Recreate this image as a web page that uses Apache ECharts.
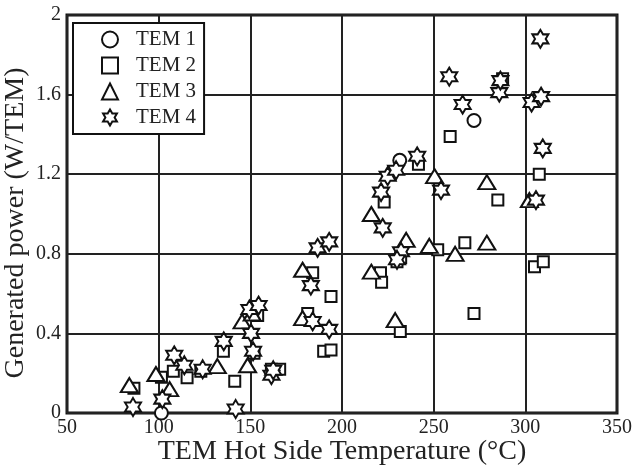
<!DOCTYPE html>
<html>
<head>
<meta charset="utf-8">
<script src="https://cdn.jsdelivr.net/npm/echarts@6/dist/echarts.min.js"></script>
<style>html,body{margin:0;padding:0;background:#fff}#c{width:632px;height:470px}</style>
</head>
<body>
<div id="c"></div>
<script>
const seriesNames = ['TEM 1', 'TEM 2', 'TEM 3', 'TEM 4'];
const xTicks = [50, 100, 150, 200, 250, 300, 350];
const yTicks = [0, 0.4, 0.8, 1.2, 1.6, 2];

const tem1X = [101.5, 231.5, 272];
const tem1Y = [0, 1.27, 1.47];

const tem2X = [86.5, 101.5, 108, 115.5, 123, 135.3, 141.5, 152, 154, 161.5, 166, 181.3, 184, 194, 190, 194, 221, 221.6, 223, 231.8, 230, 232, 241.7, 252.2, 259, 267, 272, 285, 287.6, 305, 309.8, 307.6];
const tem2Y = [0.125, 0.18, 0.21, 0.177, 0.21, 0.31, 0.16, 0.30, 0.49, 0.22, 0.22, 0.50, 0.705, 0.585, 0.31, 0.317, 0.705, 0.657, 1.06, 0.41, 0.76, 0.78, 1.25, 0.82, 1.39, 0.856, 0.50, 1.07, 1.68, 0.735, 0.76, 1.20];

const tem3X = [84, 98.5, 106, 132, 145.5, 148.5, 151, 178.5, 178.5, 216, 216, 229, 235, 247.6, 250.5, 261.7, 279, 279, 302.2];
const tem3Y = [0.14, 0.196, 0.12, 0.236, 0.46, 0.24, 0.50, 0.72, 0.477, 1.0, 0.71, 0.467, 0.87, 0.84, 1.19, 0.80, 1.16, 0.856, 1.07];

const tem4X = [86, 102, 108.5, 114, 124, 135.5, 142, 149.5, 154.5, 150.4, 151.5, 161.5, 162.5, 183, 184, 186.7, 193, 193, 222.2, 221.3, 224.9, 229.5, 232.2, 230, 241, 254, 258.5, 265.8, 285.8, 286.4, 303.4, 308.6, 308.2, 309.5, 305.8];
const tem4Y = [0.03, 0.07, 0.29, 0.24, 0.22, 0.36, 0.02, 0.52, 0.54, 0.40, 0.31, 0.19, 0.215, 0.64, 0.46, 0.83, 0.86, 0.42, 0.93, 1.11, 1.19, 1.22, 0.81, 0.77, 1.29, 1.12, 1.69, 1.55, 1.61, 1.67, 1.56, 1.59, 1.88, 1.33, 1.07];

const starPath = 'path://M0,-1L0.289,-0.5L0.866,-0.5L0.577,0L0.866,0.5L0.289,0.5L0,1L-0.289,0.5L-0.866,0.5L-0.577,0L-0.866,-0.5L-0.289,-0.5Z';

function pairs(xs, ys) { return xs.map((x, i) => [x, ys[i]]); }

const FONT = 'Liberation Serif';
const markStyle = { color: '#fff', borderColor: '#111', borderWidth: 2, opacity: 1 };

const symbols = ['circle', 'rect', 'triangle', starPath];
const sizes = [13, 11, [17, 14], [16, 18]];
const datasets = [pairs(tem1X, tem1Y), pairs(tem2X, tem2Y), pairs(tem3X, tem3Y), pairs(tem4X, tem4Y)];

const chart = echarts.init(document.getElementById('c'), null, { renderer: 'canvas' });
chart.setOption({
  animation: false,
  backgroundColor: '#fff',
  grid: { left: 67, right: 15, top: 15, bottom: 57, containLabel: false, outerBoundsMode: 'none',
    show: true, borderColor: '#111', borderWidth: 3, backgroundColor: 'transparent' },
  legend: {
    left: 73, top: 23, orient: 'vertical',
    backgroundColor: '#fff', borderColor: '#111', borderWidth: 2, borderRadius: 0,
    padding: [6, 8, 6, 28],
    itemWidth: 16, itemHeight: 16, itemGap: 5,
    textStyle: { fontFamily: FONT, fontSize: 21, color: '#222', lineHeight: 20, padding: [0, 0, 0, 13] },
    data: seriesNames.map((n, i) => ({ name: n, icon: symbols[i] })),
    itemStyle: { color: '#fff', borderColor: '#111', borderWidth: 2 }
  },
  xAxis: {
    type: 'value', min: 50, max: 350, interval: 50,
    name: 'TEM Hot Side Temperature (°C)', nameLocation: 'middle', nameGap: 25, nameMoveOverlap: false,
    nameTextStyle: { fontFamily: FONT, fontSize: 28, color: '#222' },
    axisLine: { show: false }, axisTick: { show: false },
    axisLabel: { fontFamily: FONT, fontSize: 20, color: '#222', margin: 5,
      formatter: v => xTicks.includes(v) ? String(v) : '' },
    splitLine: { show: true, lineStyle: { color: '#222', width: 2 } }
  },
  yAxis: {
    type: 'value', min: 0, max: 2, interval: 0.4,
    name: 'Generated power (W/TEM)', nameLocation: 'middle', nameGap: 37, nameMoveOverlap: false,
    nameTextStyle: { fontFamily: FONT, fontSize: 28, color: '#222', padding: [0, 18, 0, 0] },
    axisLine: { show: false }, axisTick: { show: false },
    axisLabel: { fontFamily: FONT, fontSize: 20, color: '#222', margin: 6,
      formatter: v => { const t = yTicks.find(y => Math.abs(y - v) < 1e-6); return t === undefined ? '' : (t === 0 || t === 2 ? String(t) : t.toFixed(1)); } },
    splitLine: { show: true, lineStyle: { color: '#222', width: 2 } }
  },
  series: seriesNames.map((n, i) => ({
    name: n, type: 'scatter', symbol: symbols[i], symbolSize: sizes[i],
    itemStyle: markStyle, data: datasets[i], z: 3 + i
  }))
});
</script>
</body>
</html>
